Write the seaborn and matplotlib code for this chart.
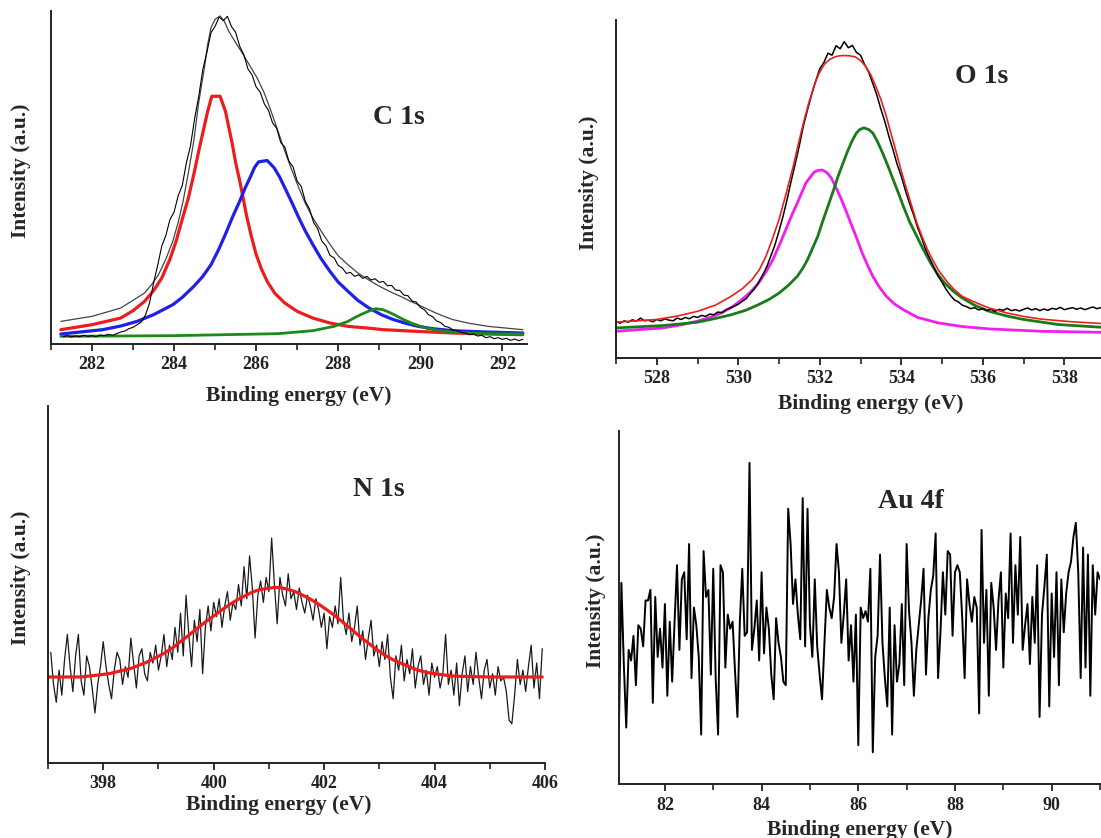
import numpy as np
import matplotlib
matplotlib.use("Agg")
import matplotlib.pyplot as plt
import seaborn as sns
from matplotlib.ticker import MultipleLocator

# ------------------------------------------------------------------
# data (intensity in a.u., 0-100 = full axis height)
# ------------------------------------------------------------------

# --- C 1s ---
c1s_raw = [2.2, 2.5, 2.1, 2.4, 2.2, 2.6, 2.3, 2.5, 2.2, 2.7, 2.5, 2.9, 2.6, 3.1, 3.6, 3.9, 4.6, 5.0,
           5.8, 6.6, 8.6, 12.2, 18.3, 23.6, 29.4, 32.6, 37.4, 39.6, 44.5, 47.6, 54.4, 59.5, 67.6,
           74.3, 82.4, 87.6, 93.5, 95.4, 98.2, 97.1, 98.4, 95.3, 93.6, 89.4, 86.9, 82.6, 80.8, 77.2,
           75.6, 72.1, 70.2, 66.4, 64.8, 60.5, 59.1, 54.8, 53.2, 48.9, 47.3, 42.8, 40.6, 36.5, 34.6,
           30.9, 29.5, 26.6, 25.9, 23.6, 22.8, 21.2, 21.5, 20.3, 20.8, 19.7, 20.3, 19.2, 19.6, 18.5,
           18.8, 17.5, 17.6, 16.2, 16.1, 14.7, 14.5, 12.9, 12.6, 11.0, 10.3, 8.8, 8.2, 6.9, 6.4, 5.3,
           5.0, 4.2, 4.0, 3.5, 3.3, 2.8, 3.0, 2.4, 2.6, 1.9, 2.2, 1.6, 1.9, 1.4, 1.7, 1.1, 1.5, 1.0, 1.4]
c1s_raw_range = (281.3, 292.5)

c1s_env_x = [281.24, 282.0, 282.7, 283.28, 283.45, 283.62, 283.8, 283.97, 284.1, 284.22, 284.35,
             284.48, 284.6, 284.74, 284.82, 284.9, 285.0, 285.12, 285.22, 285.33, 285.5, 285.68,
             285.85, 286.02, 286.2, 286.36, 286.53, 286.7, 286.87, 287.04, 287.2, 287.38, 287.6,
             287.8, 288.0, 288.24, 288.45, 288.67, 288.88, 289.09, 289.3, 289.52, 289.73, 289.95,
             290.17, 290.38, 290.6, 290.8, 291.2, 291.65, 292.5]
c1s_env_y = [6.8, 8.3, 10.8, 15.3, 17.8, 20.8, 25.5, 30.9, 36.5, 42.9, 51.5, 60.9, 72.5, 83.0, 90.0,
             95.0, 97.5, 98.5, 97.0, 94.0, 90.5, 87.0, 83.5, 80.0, 75.3, 70.0, 64.0, 57.9, 52.2, 46.9,
             42.2, 37.9, 33.6, 29.9, 26.5, 23.8, 21.6, 19.8, 18.2, 16.8, 15.5, 14.3, 13.0, 11.8, 10.5,
             9.3, 8.2, 7.3, 6.2, 5.3, 4.3]

c1s_red_x = [281.24, 282.0, 282.7, 283.0, 283.28, 283.5, 283.7, 283.9, 284.05, 284.2, 284.35, 284.5,
             284.6, 284.72, 284.82, 284.92, 285.12, 285.25, 285.42, 285.5, 285.6, 285.68, 285.76,
             285.88, 286.0, 286.13, 286.27, 286.45, 286.7, 287.0, 287.38, 287.8, 288.24, 288.7,
             289.1, 289.9, 290.8, 291.6, 292.5]
c1s_red_y = [4.3, 5.8, 7.8, 10.0, 12.8, 16.0, 19.8, 25.5, 30.9, 37.5, 43.9, 52.0, 57.9, 64.5, 69.9,
             74.4, 74.4, 70.0, 60.0, 54.5, 49.0, 44.0, 38.9, 32.5, 26.9, 22.5, 18.8, 15.3, 12.3, 9.8,
             7.8, 6.3, 5.3, 4.8, 4.3, 3.8, 3.3, 3.0, 2.8]

c1s_blue_x = [281.24, 282.26, 282.7, 283.1, 283.5, 283.97, 284.2, 284.48, 284.7, 284.9, 285.08,
              285.25, 285.42, 285.6, 285.73, 285.85, 285.96, 286.06, 286.27, 286.44, 286.57, 286.7,
              286.87, 287.04, 287.2, 287.38, 287.58, 287.8, 288.0, 288.24, 288.48, 288.75, 289.05,
              289.35, 289.65, 289.95, 290.3, 290.8, 291.6, 292.5]
c1s_blue_y = [3.0, 4.3, 5.4, 6.8, 8.8, 11.8, 14.0, 17.3, 20.3, 23.8, 28.2, 32.9, 38.0, 42.9, 46.8,
              49.9, 53.0, 54.7, 55.1, 52.9, 50.2, 46.9, 42.5, 37.9, 33.9, 29.9, 25.7, 21.8, 18.6,
              15.8, 13.1, 10.8, 8.8, 7.3, 6.2, 5.3, 4.6, 4.0, 3.6, 3.3]

c1s_green_x = [281.24, 283.97, 286.53, 287.38, 287.9, 288.24, 288.4, 288.58, 288.75, 288.92, 289.09,
               289.25, 289.44, 289.6, 289.78, 289.98, 290.2, 290.5, 290.8, 291.65, 292.5]
c1s_green_y = [2.3, 2.5, 3.1, 4.0, 5.3, 6.8, 7.9, 9.0, 9.9, 10.6, 10.3, 9.5, 8.3, 7.3, 6.3, 5.4,
               4.6, 4.0, 3.5, 3.1, 3.0]

# --- O 1s ---
o1s_raw = [10.8, 10.3, 11.0, 10.6, 11.3, 10.9, 11.8, 11.0, 11.2, 10.7, 11.4, 11.0, 11.6, 11.2, 11.0,
           11.8, 11.4, 12.0, 11.6, 12.3, 12.0, 12.6, 12.3, 13.0, 12.8, 13.6, 13.4, 14.3, 14.8, 15.3,
           15.9, 16.8, 17.6, 19.2, 20.5, 22.4, 24.6, 27.0, 30.2, 33.5, 37.6, 42.0, 47.0, 52.5, 57.6,
           63.0, 68.8, 73.5, 77.9, 82.0, 85.6, 87.4, 90.2, 89.6, 92.4, 91.5, 93.6, 91.8, 92.5, 90.4,
           89.6, 86.8, 84.6, 81.2, 77.8, 73.6, 69.8, 65.4, 61.5, 57.2, 53.8, 49.6, 45.8, 42.4, 38.6,
           35.5, 32.0, 29.4, 26.8, 24.3, 22.4, 20.3, 18.6, 17.2, 16.6, 15.6, 15.2, 14.6, 14.9, 14.2,
           14.6, 14.0, 14.5, 13.8, 14.4, 14.1, 14.7, 14.0, 14.3, 13.9, 14.4, 14.8, 14.2, 14.6, 14.0,
           14.5, 14.1, 14.7, 14.4, 15.0, 14.3, 14.6, 14.9, 14.4, 14.8, 14.3, 14.7, 15.1, 14.6, 14.9]
o1s_raw_range = (527.0, 538.9)

o1s_env_x = [527.0, 528.0, 528.5, 529.0, 529.45, 529.83, 530.1, 530.34, 530.52, 530.68, 530.84, 531.0,
             531.18, 531.35, 531.48, 531.6, 531.73, 531.86, 531.98, 532.11, 532.24, 532.37, 532.48,
             532.6, 532.74, 532.87, 533.0, 533.12, 533.25, 533.37, 533.5, 533.63, 533.75, 533.88,
             534.0, 534.13, 534.26, 534.38, 534.51, 534.64, 534.77, 534.9, 535.1, 535.3, 535.5,
             535.75, 536.15, 536.6, 537.0, 537.44, 538.1, 538.9]
o1s_env_y = [10.6, 11.4, 12.4, 13.8, 15.7, 18.3, 20.5, 23.2, 26.2, 30.1, 35.3, 41.0, 48.9, 56.8, 63.6,
             69.6, 75.5, 80.5, 84.2, 86.9, 88.3, 89.1, 89.4, 89.5, 89.4, 89.1, 88.0, 86.4, 83.8, 80.5,
             76.5, 71.6, 66.3, 60.7, 55.3, 49.9, 44.8, 40.0, 35.9, 32.1, 29.0, 26.2, 22.9, 20.2, 18.2,
             16.8, 14.8, 13.3, 12.3, 11.5, 10.8, 10.2]

o1s_mag_x = [527.0, 528.15, 528.6, 529.0, 529.3, 529.58, 529.85, 530.09, 530.3, 530.5, 530.68, 530.85,
             531.03, 531.2, 531.33, 531.45, 531.56, 531.66, 531.86, 531.96, 532.07, 532.18, 532.28,
             532.4, 532.53, 532.66, 532.79, 532.92, 533.04, 533.17, 533.3, 533.46, 533.63, 533.83,
             534.05, 534.4, 534.9, 535.5, 536.16, 537.44, 538.9]
o1s_mag_y = [7.9, 8.9, 9.8, 10.9, 12.0, 13.3, 15.1, 17.3, 19.5, 22.2, 25.5, 29.1, 34.0, 39.0, 42.7,
             45.9, 49.0, 51.8, 55.0, 55.5, 55.6, 54.8, 53.3, 50.4, 46.9, 43.0, 39.0, 35.0, 31.1, 27.5,
             24.2, 21.0, 18.3, 16.0, 14.3, 12.0, 10.4, 9.3, 8.6, 7.9, 7.6]

o1s_green_x = [527.0, 528.15, 528.6, 529.0, 529.4, 529.83, 530.2, 530.5, 530.75, 531.0, 531.23,
               531.45, 531.58, 531.7, 531.82, 531.95, 532.07, 532.2, 532.33, 532.45, 532.58, 532.7,
               532.8, 532.9, 532.98, 533.08, 533.2, 533.3, 533.42, 533.54, 533.67, 533.8, 533.93,
               534.05, 534.2, 534.38, 534.55, 534.72, 534.88, 535.06, 535.27, 535.49, 535.8, 536.16,
               536.6, 537.0, 537.85, 538.9]
o1s_green_y = [8.9, 9.6, 10.1, 10.6, 11.6, 12.8, 14.2, 15.8, 17.3, 19.2, 21.5, 24.2, 26.5, 29.1, 32.4,
               36.0, 40.4, 44.9, 49.4, 53.8, 58.0, 61.7, 64.4, 66.6, 67.6, 68.1, 67.6, 66.6, 63.9,
               60.7, 56.9, 52.8, 48.8, 44.9, 40.4, 36.0, 31.9, 28.1, 25.0, 22.2, 19.8, 17.8, 15.6,
               13.8, 12.4, 11.4, 9.9, 9.1]

# --- N 1s ---
n1s_raw = [31, 22, 17, 26, 19, 29, 36, 27, 20, 30,
           36, 23, 19, 30, 27, 21, 14, 22, 27, 34,
           27, 22, 18, 26, 31, 29, 22, 27, 24, 35,
           28, 21, 30, 32, 25, 23, 31, 28, 33, 26,
           30, 36, 27, 33, 29, 38, 31, 42, 30, 47,
           36, 27, 40, 34, 43, 25, 38, 44, 37, 45,
           41, 46, 38, 44, 48, 40, 45, 43, 50, 44,
           55, 46, 58, 49, 35, 47, 51, 45, 52, 48,
           63, 50, 39, 52, 47, 44, 53, 46, 48, 43,
           49, 45, 42, 47, 44, 40, 46, 43, 38, 42,
           32, 41, 38, 44, 39, 52, 40, 36, 42, 34,
           38, 44, 33, 37, 29, 35, 40, 30, 33, 27,
           34, 29, 36, 24, 18, 30, 26, 33, 23, 29,
           25, 32, 21, 27, 30, 22, 26, 19, 28, 24,
           27, 21, 25, 36, 22, 26, 19, 28, 16, 25,
           30, 20, 27, 22, 31, 24, 18, 26, 29, 21,
           25, 19, 27, 23, 24, 20, 12, 11, 19, 29,
           22, 26, 20, 27, 33, 21, 28, 18, 32]
n1s_raw_range = (397.05, 405.95)

n1s_fit_x = [397.0, 397.6, 398.1, 398.5, 398.8, 399.1, 399.25, 399.4, 399.55, 399.7, 399.85, 400.0,
             400.15, 400.3, 400.45, 400.6, 400.72, 400.85, 401.1, 401.22, 401.35, 401.48, 401.6,
             401.75, 401.9, 402.05, 402.2, 402.35, 402.5, 402.65, 402.8, 402.95, 403.1, 403.25,
             403.4, 403.55, 403.7, 403.85, 404.0, 404.2, 404.4, 405.0, 405.95]
n1s_fit_y = [24.1, 24.1, 25.0, 26.5, 28.3, 30.7, 32.2, 34.0, 35.8, 37.7, 39.5, 41.2, 42.9, 44.5,
             45.9, 47.1, 48.0, 48.6, 49.2, 49.1, 48.6, 48.0, 47.1, 45.9, 44.5, 42.9, 41.2, 39.3,
             37.4, 35.4, 33.6, 31.8, 30.2, 28.9, 27.9, 26.9, 26.0, 25.4, 25.0, 24.6, 24.3, 24.1, 24.1]

# --- Au 4f ---
au4f_raw = [17, 57, 34, 16, 38, 35, 42, 28, 45, 44, 39, 52, 52, 55, 23, 53, 36, 44, 33, 51,
            25, 46, 29, 46, 62, 38, 58, 60, 41, 68, 30, 50, 45, 36, 14, 66, 53, 55, 31, 61,
            30, 14, 62, 60, 33, 48, 44, 46, 32, 19, 46, 61, 42, 43, 91, 38, 44, 52, 35, 60,
            37, 50, 44, 31, 24, 47, 40, 36, 29, 28, 78, 68, 51, 58, 48, 41, 81, 39, 78, 45,
            36, 58, 39, 31, 24, 40, 55, 50, 47, 53, 68, 60, 40, 48, 58, 35, 45, 29, 48, 11,
            50, 47, 49, 46, 61, 9, 36, 42, 65, 40, 30, 22, 50, 14, 45, 29, 34, 51, 28, 68,
            49, 40, 25, 38, 45, 52, 61, 31, 47, 55, 59, 71, 30, 43, 60, 48, 66, 65, 42, 60,
            62, 60, 47, 30, 58, 51, 46, 53, 50, 20, 72, 40, 55, 25, 57, 50, 38, 52, 60, 33,
            54, 47, 71, 40, 62, 48, 70, 38, 45, 51, 34, 53, 40, 62, 19, 48, 56, 65, 22, 54,
            36, 60, 28, 58, 43, 54, 60, 63, 70, 74, 60, 30, 67, 33, 65, 25, 62, 48, 60, 58]
au4f_raw_range = (81.05, 91.0)

# ------------------------------------------------------------------
# style
# ------------------------------------------------------------------
sns.set_style("ticks")
plt.rcParams["font.family"] = ["Liberation Serif", "DejaVu Serif"]
plt.rcParams["font.weight"] = "bold"
plt.rcParams["lines.solid_joinstyle"] = "round"

RED = "#ee1d1d"
BLUE = "#2020e6"
GREEN = "#1b8a1b"
MAGENTA = "#f01ef0"

fig = plt.figure(figsize=(11.01, 8.38), dpi=100)

# axes rectangles in figure fraction (left, bottom, width, height)
ax_c = fig.add_axes([0.0463, 0.5895, 0.4323, 0.3974])
ax_o = fig.add_axes([0.5595, 0.5728, 0.4405, 0.4033])
ax_n = fig.add_axes([0.0436, 0.0895, 0.4514, 0.4260])
ax_a = fig.add_axes([0.5622, 0.0644, 0.4369, 0.4212])


def grid_of(vals, rng):
    return np.linspace(rng[0], rng[1], len(vals))


def style_axis(ax, xlim, title, title_pos, ylab_x, xlab_pos):
    ax.set_xlim(*xlim)
    ax.set_ylim(0, 100)
    sns.despine(ax=ax)
    for s in ("left", "bottom"):
        ax.spines[s].set_linewidth(1.4)
        ax.spines[s].set_color("#222222")
    ax.set_yticks([])
    ax.xaxis.set_major_locator(MultipleLocator(2))
    ax.xaxis.set_minor_locator(MultipleLocator(1))
    ax.tick_params(axis="x", which="major", direction="out", length=5, width=1.3,
                   labelsize=13, pad=4, colors="#222222")
    ax.tick_params(axis="x", which="minor", direction="out", length=4, width=1.2, colors="#222222")
    for lab in ax.get_xticklabels():
        lab.set_fontweight("bold")
    ax.set_xlabel("Binding energy (eV)", fontsize=15.5, fontweight="bold")
    ax.xaxis.set_label_coords(*xlab_pos)
    ax.xaxis.label.set_va("center")
    ax.set_ylabel("Intensity (a.u.)", fontsize=15.5, fontweight="bold")
    ax.yaxis.set_label_coords(ylab_x, 0.52)
    ax.yaxis.label.set_va("center")
    ax.text(title_pos[0], title_pos[1], title, transform=ax.transAxes, ha="center",
            va="center", fontsize=20, fontweight="bold")


# --- C 1s ---
sns.lineplot(x=c1s_red_x, y=c1s_red_y, ax=ax_c, color=RED, lw=2.3)
sns.lineplot(x=c1s_blue_x, y=c1s_blue_y, ax=ax_c, color=BLUE, lw=2.3)
sns.lineplot(x=c1s_green_x, y=c1s_green_y, ax=ax_c, color=GREEN, lw=2.0)
sns.lineplot(x=c1s_env_x, y=c1s_env_y, ax=ax_c, color="#444444", lw=0.9)
sns.lineplot(x=grid_of(c1s_raw, c1s_raw_range), y=c1s_raw, ax=ax_c, color="black", lw=0.8)
style_axis(ax_c, (281.0, 292.6), "C 1s", (0.731, 0.68), -0.063, (0.52, -0.156))

# --- O 1s ---
sns.lineplot(x=o1s_mag_x, y=o1s_mag_y, ax=ax_o, color=MAGENTA, lw=2.0)
sns.lineplot(x=o1s_green_x, y=o1s_green_y, ax=ax_o, color="#1a7a1a", lw=2.0)
sns.lineplot(x=grid_of(o1s_raw, o1s_raw_range), y=o1s_raw, ax=ax_o, color="black", lw=1.1)
sns.lineplot(x=o1s_env_x, y=o1s_env_y, ax=ax_o, color=RED, lw=1.2)
style_axis(ax_o, (527.0, 538.9), "O 1s", (0.753, 0.834), -0.056, (0.526, -0.136))

# --- N 1s ---
sns.lineplot(x=grid_of(n1s_raw, n1s_raw_range), y=n1s_raw, ax=ax_n, color="#1a1a1a", lw=0.9)
sns.lineplot(x=n1s_fit_x, y=n1s_fit_y, ax=ax_n, color=RED, lw=2.3)
style_axis(ax_n, (397.0, 406.0), "N 1s", (0.666, 0.765), -0.054, (0.465, -0.118))

# --- Au 4f ---
sns.lineplot(x=grid_of(au4f_raw, au4f_raw_range), y=au4f_raw, ax=ax_a, color="black", lw=1.4)
style_axis(ax_a, (81.05, 91.0), "Au 4f", (0.607, 0.80), -0.048, (0.50, -0.130))

fig.savefig("out.png", dpi=100)
